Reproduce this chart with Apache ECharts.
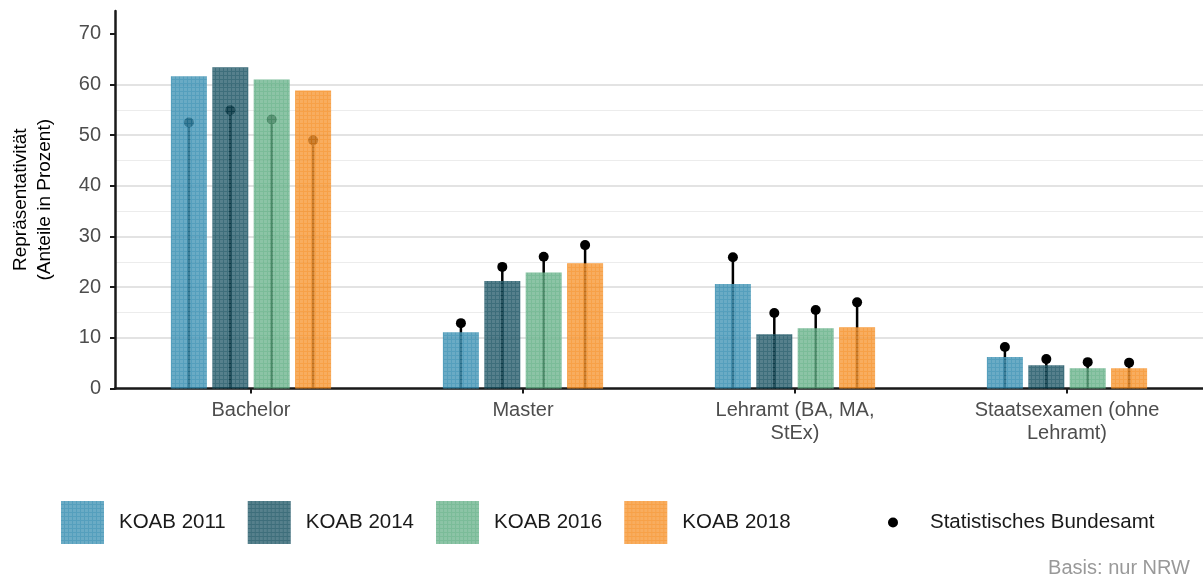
<!DOCTYPE html>
<html>
<head>
<meta charset="utf-8">
<script src="https://cdn.jsdelivr.net/npm/echarts@6/dist/echarts.min.js"></script>
<style>
  html, body { margin: 0; padding: 0; background: #fff; }
  #chart { width: 1203px; height: 583px; }
</style>
</head>
<body>
<div id="chart"></div>
<script>
// Kategorien (Abschlussart)
const categories = ['Bachelor', 'Master', 'Lehramt (BA, MA,\nStEx)', 'Staatsexamen (ohne\nLehramt)'];
const years = ['KOAB 2011', 'KOAB 2014', 'KOAB 2016', 'KOAB 2018'];

// KOAB Anteile in Prozent
const koab2011 = [61.6, 11.1, 20.6, 6.2];
const koab2014 = [63.4, 21.2, 10.7, 4.6];
const koab2016 = [61.0, 22.9, 11.9, 4.0];
const koab2018 = [58.8, 24.7, 12.1, 4.0];

// Statistisches Bundesamt (Referenzwerte je Jahrgang)
const destatis2011 = [52.5, 12.9, 25.9, 8.2];
const destatis2014 = [54.9, 24.0, 14.9, 5.8];
const destatis2016 = [53.1, 26.0, 15.5, 5.2];
const destatis2018 = [49.0, 28.3, 17.0, 5.1];

const majorTicks = [0, 10, 20, 30, 40, 50, 60, 70];
const minorTicks = [5, 15, 25, 35, 45, 55, 65];

const colors = ['#2b87ad', '#0e4a5a', '#5aab80', '#f5891a'];
const BAR_W = 36;
const BAR_GAP = 0.15;
const FONT = 'Liberation Sans, Arial, sans-serif';

const koab = [koab2011, koab2014, koab2016, koab2018];
const destatis = [destatis2011, destatis2014, destatis2016, destatis2018];

const lolliData = [];
destatis.forEach((arr, j) => {
  arr.forEach((v, i) => lolliData.push([i, j, v]));
});

const decal = {
  symbol: 'rect',
  symbolSize: 1,
  color: 'rgba(255,255,255,0.16)',
  dashArrayX: [3, 1],
  dashArrayY: [3, 1],
  rotation: 0
};

const barSeries = years.map((name, j) => ({
  name: name,
  type: 'bar',
  xAxisIndex: 0,
  yAxisIndex: 0,
  barWidth: BAR_W,
  barGap: (BAR_GAP * 100) + '%',
  z: 3,
  data: koab[j],
  itemStyle: { color: colors[j], opacity: 0.8, decal: decal }
}));

const chartInstance = echarts.init(document.getElementById('chart'));
chartInstance.setOption({
  animation: false,
  textStyle: { fontFamily: FONT },
  grid: { left: 115, right: -3, top: 11, bottom: 194.5, containLabel: false },
  xAxis: {
    type: 'category',
    data: categories,
    axisLine: { show: true, lineStyle: { color: '#1a1a1a', width: 2.5 } },
    axisTick: { show: true, alignWithLabel: true, length: 5, lineStyle: { color: '#1a1a1a', width: 2 } },
    axisLabel: { color: '#4d4d4d', fontSize: 20, lineHeight: 23, margin: 10, interval: 0 },
    splitLine: { show: false }
  },
  yAxis: [
    {
      type: 'value',
      min: 0,
      max: 74.5,
      name: 'Repräsentativität\n(Anteile in Prozent)',
      nameLocation: 'middle',
      nameGap: 58,
      nameTextStyle: { color: '#000', fontSize: 19, lineHeight: 24 },
      axisLine: { show: true, lineStyle: { color: '#1a1a1a', width: 2.5 } },
      axisTick: { show: true, length: 5, customValues: majorTicks, lineStyle: { color: '#1a1a1a', width: 2 } },
      axisLabel: { customValues: majorTicks, color: '#4d4d4d', fontSize: 20, margin: 14 },
      splitLine: { show: true, showMaxLine: false, lineStyle: { color: '#e3e3e3', width: 2 } }
    },
    {
      type: 'value',
      min: 0,
      max: 74.5,
      position: 'left',
      axisLine: { show: false },
      axisTick: { show: false, customValues: minorTicks },
      axisLabel: { show: false, customValues: minorTicks },
      splitLine: { show: true, showMaxLine: false, showMinLine: false, lineStyle: { color: '#ececec', width: 1 } }
    }
  ],
  legend: [
    {
      data: years.map(n => ({ name: n, icon: 'rect' })),
      left: 61,
      top: 501,
      padding: 0,
      itemWidth: 43,
      itemHeight: 43,
      itemGap: 22,
      textStyle: { color: '#1a1a1a', fontSize: 20.5, padding: [0, 0, 0, 10] }
    },
    {
      data: [{ name: 'Statistisches Bundesamt', icon: 'circle' }],
      left: 888,
      top: 512,
      padding: 0,
      itemWidth: 10,
      itemHeight: 10,
      textStyle: { color: '#1a1a1a', fontSize: 20.5, padding: [0, 0, 0, 27] }
    }
  ],
  title: {
    text: 'Basis: nur NRW',
    right: 8,
    bottom: 0,
    textStyle: { color: '#999999', fontSize: 20, fontWeight: 'normal' }
  },
  series: barSeries.concat([
    {
      name: 'Statistisches Bundesamt',
      type: 'custom',
      z: 1,
      data: lolliData,
      encode: { x: 0, y: 2 },
      itemStyle: { color: '#000' },
      renderItem: function (params, api) {
        const cat = api.value(0);
        const j = api.value(1);
        const top = api.coord([cat, api.value(2)]);
        const base = api.coord([cat, 0]);
        const x = top[0] + (j - 1.5) * BAR_W * (1 + BAR_GAP);
        return {
          type: 'group',
          children: [
            { type: 'line', shape: { x1: x, y1: base[1], x2: x, y2: top[1] }, style: { stroke: '#000', lineWidth: 2.5 } },
            { type: 'circle', shape: { cx: x, cy: top[1], r: 5 }, style: { fill: '#000' } }
          ]
        };
      }
    }
  ])
});
</script>
</body>
</html>
